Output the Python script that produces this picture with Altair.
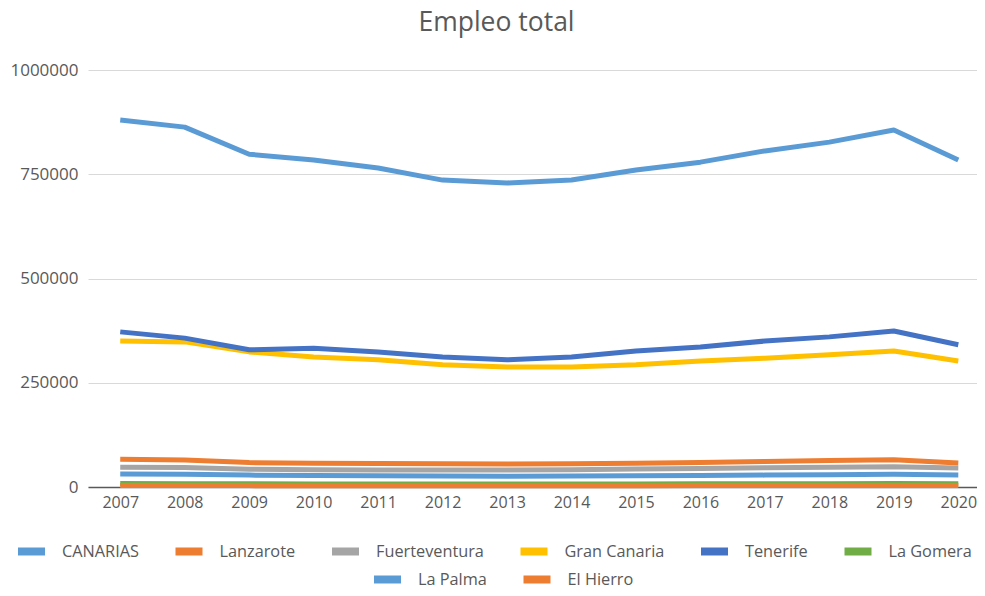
import altair as alt
import pandas as pd

years = list(range(2007, 2021))

series_names = ["CANARIAS", "Lanzarote", "Fuerteventura", "Gran Canaria",
                "Tenerife", "La Gomera", "La Palma", "El Hierro"]
series_colors = ["#5B9BD5", "#ED7D31", "#A5A5A5", "#FFC000",
                 "#4472C4", "#70AD47", "#5B9BD5", "#ED7D31"]

canarias = [880000, 863000, 798000, 784000, 765000, 736000, 729000,
            736000, 760000, 779000, 806000, 827000, 856000, 784000]
lanzarote = [66500, 64500, 58500, 57000, 56500, 55500, 55000,
             56000, 57000, 58500, 61000, 63500, 65500, 57500]
fuerteventura = [47500, 46500, 42500, 41500, 41000, 40500, 40500,
                 41500, 43000, 44500, 46000, 47500, 48500, 45500]
gran_canaria = [350000, 348000, 324000, 312000, 305000, 293000, 288000,
                288000, 293000, 302000, 309000, 317000, 326000, 302000]
tenerife = [372000, 357000, 329000, 333000, 324000, 312000, 305000,
            312000, 326000, 336000, 350000, 360000, 374000, 341000]
la_gomera = [8200, 8000, 7600, 7400, 7300, 7100, 7000,
             7100, 7300, 7500, 7700, 7900, 8100, 7600]
la_palma = [31000, 30500, 28500, 27500, 27000, 26500, 26000,
            26500, 27000, 27500, 28500, 29500, 30500, 29000]
el_hierro = [3600, 3500, 3300, 3200, 3200, 3100, 3100,
             3100, 3200, 3300, 3400, 3500, 3600, 3400]

values = [canarias, lanzarote, fuerteventura, gran_canaria,
          tenerife, la_gomera, la_palma, el_hierro]

rows = []
for name, vals in zip(series_names, values):
    for y, v in zip(years, vals):
        rows.append({"serie": name, "anio": y, "empleo": v})
df = pd.DataFrame(rows)

names_a = series_names[:6]
names_b = series_names[6:]
colors_a = series_colors[:6]
colors_b = series_colors[6:]

TXT = "#595959"
FONT = "Open Sans"

x_enc = alt.X("anio:Q",
              scale=alt.Scale(domain=[2006.5, 2020.29], nice=False, zero=False),
              axis=alt.Axis(values=years, format="d", title=None, grid=False,
                            ticks=False, labelFontSize=16, labelColor=TXT,
                            labelFont=FONT, labelPadding=7, domainColor=TXT,
                            domainWidth=1.5, labelFlush=False))
y_enc = alt.Y("empleo:Q",
              scale=alt.Scale(domain=[0, 1000000], nice=False),
              axis=alt.Axis(values=[0, 250000, 500000, 750000, 1000000],
                            format="d", title=None, ticks=False, domain=False,
                            gridColor="#D9D9D9", gridWidth=1,
                            labelFontSize=17, labelColor=TXT, labelFont=FONT,
                            labelPadding=10))


def legend(x, y, cols):
    return alt.Legend(title=None, orient="none", legendX=x, legendY=y,
                      direction="horizontal", columns=cols, gridAlign="none",
                      symbolType="M-1,0H1", symbolSize=729,
                      symbolStrokeWidth=8, labelOffset=13, columnPadding=20.5,
                      labelFontSize=16.3, labelColor=TXT, labelFont=FONT,
                      padding=0)


base = alt.Chart(df).mark_line(strokeWidth=5, strokeJoin="round")

layer_a = base.transform_filter(
    alt.FieldOneOfPredicate(field="serie", oneOf=names_a)
).encode(
    x=x_enc, y=y_enc,
    color=alt.Color("serie:N", sort=names_a,
                    scale=alt.Scale(domain=names_a, range=colors_a),
                    legend=legend(-74, 464, 6)),
)

layer_b = base.transform_filter(
    alt.FieldOneOfPredicate(field="serie", oneOf=names_b)
).encode(
    x=x_enc, y=y_enc,
    color=alt.Color("serie:N", sort=names_b,
                    scale=alt.Scale(domain=names_b, range=colors_b),
                    legend=legend(282, 492, 2)),
)

chart = alt.layer(layer_a, layer_b).resolve_scale(
    color="independent"
).properties(
    width=889,
    height=417,
    title=alt.Title("Empleo total", fontSize=26.5, font=FONT, color=TXT,
                    fontWeight="normal", anchor="middle", dx=-36,
                    baseline="bottom", offset=-2),
    autosize=alt.AutoSizeParams(type="none"),
    padding={"left": 80, "top": 62, "right": 0, "bottom": 101},
).configure_view(stroke=None)

chart.save("out.html", embed_options={"renderer": "svg", "actions": False})
